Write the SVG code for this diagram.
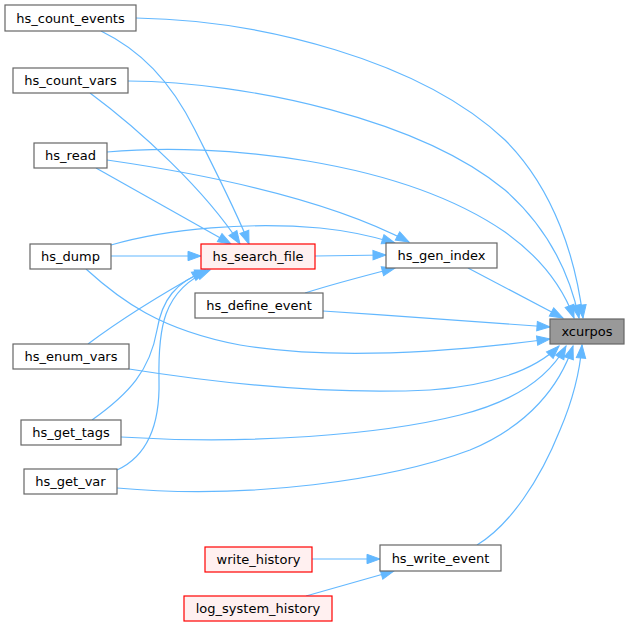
<svg xmlns="http://www.w3.org/2000/svg" width="629" height="627" viewBox="0 0 629 627">
<style>
.n rect{fill:#ffffff;stroke:#666666;stroke-width:1.2}
.n.hl rect{fill:#999999;stroke:#666666}
.n.red rect{fill:#fff0f0;stroke:#ff0000}
.n text{font-family:"DejaVu Sans",sans-serif;font-size:13px;fill:#000000;text-anchor:middle}
#edges path{fill:none;stroke:#63b8ff;stroke-width:1.2;marker-end:url(#arr)}
</style>
<defs>
<marker id="arr" markerUnits="userSpaceOnUse" markerWidth="14" markerHeight="10" refX="13" refY="4.7" orient="auto" overflow="visible">
<path d="M0,0 L13,4.7 L0,9.4 z" fill="#63b8ff" stroke="#63b8ff" stroke-width="1"/>
</marker>
</defs>
<rect width="629" height="627" fill="#ffffff"/>
<g id="edges">
<path d="M136,18 C260,20 420,60 505,140 C555,190 576,260 583,318"/>
<path d="M101,31 C140,50 170,80 195,130 C220,180 238,215 249,244"/>
<path d="M128,81 C250,82 420,120 505,190 C548,228 570,275 579,318"/>
<path d="M90,93 C140,130 205,190 240,244"/>
<path d="M107,152 C220,142 400,160 505,232 C540,257 562,285 574,318"/>
<path d="M107,160 C190,172 320,195 409,242"/>
<path d="M96,168 L231,244"/>
<path d="M111,245 C170,228 250,222 320,228 C350,231 372,236 395,243"/>
<path d="M111,256 L201,256"/>
<path d="M86,269 C120,300 160,330 240,345 C330,360 450,352 550,339"/>
<path d="M315,256 L386,255"/>
<path d="M305,293 C330,285 360,277 395,268"/>
<path d="M323,311 C400,316 480,322 550,327"/>
<path d="M468,268 L563,318"/>
<path d="M88,344 C120,320 160,295 205,270"/>
<path d="M129,369 C230,385 330,395 430,390 C490,386 535,370 559,346"/>
<path d="M92,420 C130,393 150,370 157,330 C162,300 175,282 208,270"/>
<path d="M121,437 C250,445 380,435 460,415 C520,400 550,375 566,346"/>
<path d="M117,470 C150,455 160,420 159,380 C158,330 162,290 210,270"/>
<path d="M117,488 C250,500 390,480 470,450 C530,425 560,385 573,346"/>
<path d="M477,545 C510,525 540,480 560,430 C575,395 580,370 582,345"/>
<path d="M312,559 L380,559"/>
<path d="M306,596 L394,571"/>
</g>
<g id="xcurpos" class="n hl"><rect x="550" y="319" width="74" height="25"/><text x="587" y="336">xcurpos</text></g>
<g id="hs_count_events" class="n"><rect x="5" y="5" width="131" height="26"/><text x="70.5" y="22.5">hs_count_events</text></g>
<g id="hs_count_vars" class="n"><rect x="13" y="68" width="115" height="25"/><text x="70.5" y="85">hs_count_vars</text></g>
<g id="hs_read" class="n"><rect x="34" y="143" width="73" height="25"/><text x="70.5" y="160">hs_read</text></g>
<g id="hs_dump" class="n"><rect x="30" y="244" width="81" height="25"/><text x="70.5" y="261">hs_dump</text></g>
<g id="hs_search_file" class="n red"><rect x="201" y="244" width="114" height="25"/><text x="258" y="261">hs_search_file</text></g>
<g id="hs_define_event" class="n"><rect x="195" y="293" width="128" height="25"/><text x="259" y="310">hs_define_event</text></g>
<g id="hs_gen_index" class="n"><rect x="386" y="243" width="111" height="25"/><text x="441.5" y="260">hs_gen_index</text></g>
<g id="hs_enum_vars" class="n"><rect x="13" y="344" width="116" height="25"/><text x="71" y="361">hs_enum_vars</text></g>
<g id="hs_get_tags" class="n"><rect x="21" y="420" width="100" height="25"/><text x="71" y="437">hs_get_tags</text></g>
<g id="hs_get_var" class="n"><rect x="24" y="469" width="93" height="25"/><text x="70.5" y="486">hs_get_var</text></g>
<g id="write_history" class="n red"><rect x="205" y="547" width="107" height="25"/><text x="258.5" y="564">write_history</text></g>
<g id="log_system_history" class="n red"><rect x="184" y="596" width="148" height="25"/><text x="258" y="613">log_system_history</text></g>
<g id="hs_write_event" class="n"><rect x="380" y="545" width="121" height="26"/><text x="440.5" y="563">hs_write_event</text></g>
</svg>
